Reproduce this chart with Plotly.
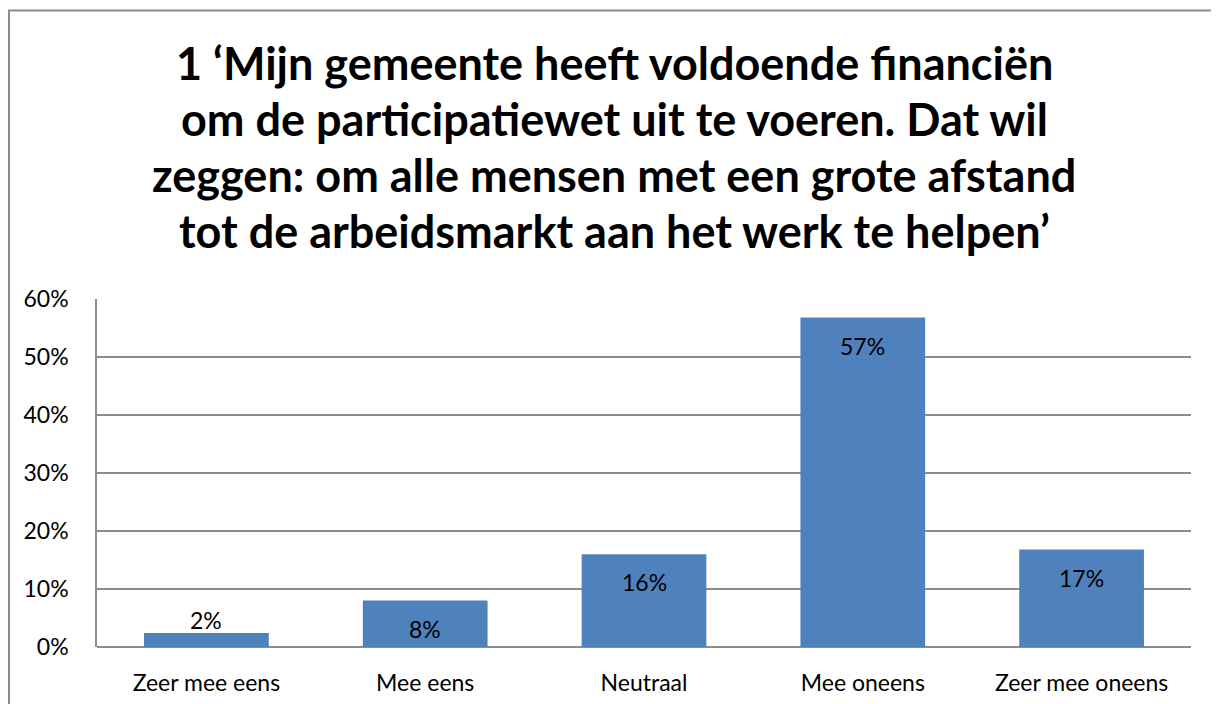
import plotly.graph_objects as go

# data
categories = ["Zeer mee eens", "Mee eens", "Neutraal", "Mee oneens", "Zeer mee oneens"]
shares = [0.024, 0.080, 0.160, 0.568, 0.168]
title_lines = [
    "1 \u2018Mijn gemeente heeft voldoende financi\u00ebn",
    "om de participatiewet uit te voeren. Dat wil",
    "zeggen: om alle mensen met een grote afstand",
    "tot de arbeidsmarkt aan het werk te helpen\u2019",
]

FONT = "Lato, 'Open Sans', sans-serif"
OFF = 8  # page body margin
W, H = 1219 - OFF, 704 - OFF
ml, mr, mt, mb = 97 - OFF, 28, 299 - OFF, 57
plot_w = W - ml - mr
plot_h = H - mt - mb


def px_x(x):  # window pixel -> paper x
    return (x - OFF - ml) / plot_w


def px_y(y):  # window pixel -> paper y
    return (H - mb - (y - OFF)) / plot_h


fig = go.Figure()
fig.add_trace(go.Bar(x=categories, y=shares, marker_color="#4F81BD",
                     marker_line_width=0, width=0.57, hoverinfo="skip"))

# value labels: inside near the top, above the bar when it is too short
for c, v in zip(categories, shares):
    inside = v >= 0.05
    fig.add_annotation(x=c, y=v, text=f"{v:.0%}", showarrow=False,
                       yanchor="middle", yshift=-28 if inside else 13,
                       font=dict(family=FONT, size=23, color="black"))

# title, one annotation per line
for i, line in enumerate(title_lines):
    fig.add_annotation(x=px_x(614), y=px_y(63 + i * 56),
                       xref="paper", yref="paper", text=f"<b>{line}</b>",
                       showarrow=False, xanchor="center", yanchor="middle",
                       font=dict(family=FONT, size=45, color="black"))

# outer chart border (runs off the right and bottom of the picture)
fig.add_shape(type="rect", xref="paper", yref="paper",
              x0=px_x(9), x1=px_x(1240), y0=px_y(760), y1=px_y(10.5),
              line=dict(color="#8C8C8C", width=2), layer="below")

fig.update_layout(
    width=W, height=H,
    margin=dict(l=ml, r=mr, t=mt, b=mb),
    paper_bgcolor="white", plot_bgcolor="white",
    showlegend=False,
    font=dict(family=FONT, size=23, color="black"),
    xaxis=dict(showgrid=False, showline=False, ticks="", automargin=False,
               ticklabelstandoff=20, tickfont=dict(size=23)),
    yaxis=dict(range=[0, 0.6], dtick=0.1, tickformat=".0%", automargin=False,
               showgrid=True, gridcolor="#8C8C8C", gridwidth=1.5,
               showline=True, linecolor="#8C8C8C", linewidth=1.5,
               zeroline=True, zerolinecolor="#8C8C8C", zerolinewidth=1.5,
               ticks="", ticklabelstandoff=22, tickfont=dict(size=23)),
)

fig.write_html("out.html")
